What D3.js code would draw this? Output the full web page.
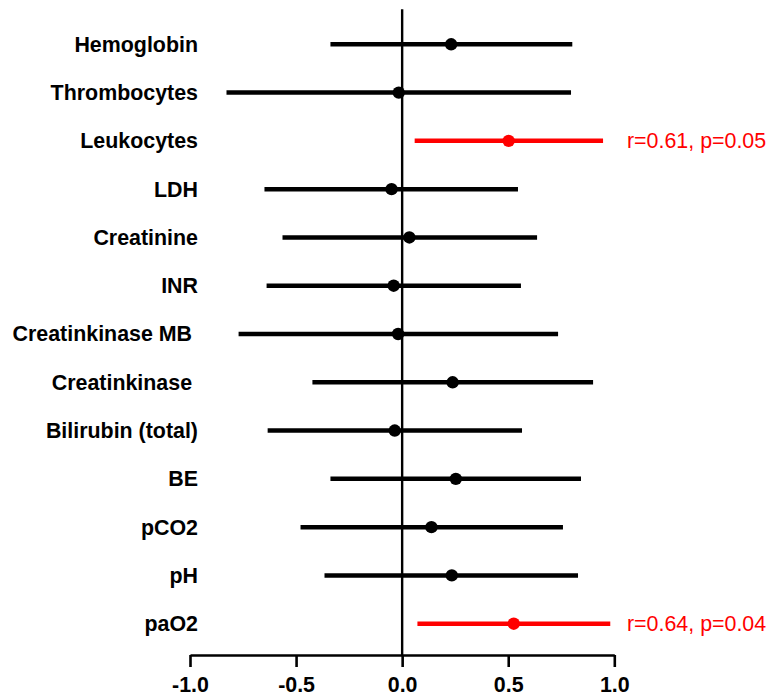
<!DOCTYPE html>
<html>
<head>
<meta charset="utf-8">
<script src="https://cdn.jsdelivr.net/npm/d3@7/dist/d3.min.js"></script>
<style>
  html, body { margin: 0; padding: 0; background: #fff; }
  text { font-family: "Liberation Sans", Arial, Helvetica, sans-serif; }
</style>
</head>
<body>
<svg id="chart" width="783" height="698"></svg>
<script>
// ---- data ----
const categories = ["Hemoglobin", "Thrombocytes", "Leukocytes", "LDH", "Creatinine", "INR",
  "Creatinkinase MB ", "Creatinkinase ", "Bilirubin (total)", "BE", "pCO2", "pH", "paO2"];
const estimate = [0.231, -0.016, 0.502, -0.050, 0.034, -0.040, -0.019, 0.238, -0.035, 0.253, 0.138, 0.234, 0.526];
const lower    = [-0.338, -0.828, 0.059, -0.649, -0.564, -0.639, -0.771, -0.423, -0.634, -0.338, -0.479, -0.366, 0.072];
const upper    = [0.802, 0.796, 0.947, 0.546, 0.636, 0.560, 0.735, 0.900, 0.565, 0.843, 0.758, 0.829, 0.981];
const significant = [false, false, true, false, false, false, false, false, false, false, false, false, true];
const annotations = ["", "", "r=0.61, p=0.05", "", "", "", "", "", "", "", "", "", "r=0.64, p=0.04"];
const tickValues = [-1.0, -0.5, 0.0, 0.5, 1.0];
const tickLabels = ["-1.0", "-0.5", "0.0", "0.5", "1.0"];

const rows = categories.map((c, i) => ({
  name: c, est: estimate[i], lo: lower[i], hi: upper[i], sig: significant[i], note: annotations[i]
}));

// ---- layout ----
const svg = d3.select("#chart");
const x = d3.scaleLinear().domain([-1, 1]).range([190, 614.3]);
const y = d3.scalePoint().domain(categories).range([44.3, 623.7]);
const axisY = 655;
const topY = 9.3;
const colorOf = d => d.sig ? "#ff0000" : "#000000";

// zero line
svg.append("line")
  .attr("x1", x(0)).attr("x2", x(0))
  .attr("y1", topY).attr("y2", axisY)
  .attr("stroke", "#000").attr("stroke-width", 2.4);

// x axis
const axis = d3.axisBottom(x)
  .tickValues(tickValues)
  .tickFormat((d, i) => tickLabels[i])
  .tickSize(12)
  .tickSizeOuter(0)
  .tickPadding(10);
const gx = svg.append("g").attr("transform", `translate(0,${axisY})`).call(axis);
gx.select(".domain").attr("stroke", "#000").attr("stroke-width", 2.6);
gx.selectAll(".tick line").attr("stroke", "#000").attr("stroke-width", 2.6);
gx.selectAll(".tick text")
  .attr("fill", "#000")
  .style("font-family", '"Liberation Sans", Arial, sans-serif')
  .style("font-size", "21.4px")
  .style("font-weight", "bold");

// error bars
svg.append("g").selectAll("line")
  .data(rows).join("line")
  .attr("x1", d => x(d.lo)).attr("x2", d => x(d.hi))
  .attr("y1", d => y(d.name)).attr("y2", d => y(d.name))
  .attr("stroke", colorOf).attr("stroke-width", 4.5);

// points
svg.append("g").selectAll("circle")
  .data(rows).join("circle")
  .attr("cx", d => x(d.est)).attr("cy", d => y(d.name))
  .attr("r", 6.2)
  .attr("fill", colorOf);

// category labels
svg.append("g").selectAll("text")
  .data(rows).join("text")
  .attr("x", 198).attr("y", d => y(d.name))
  .attr("dy", "0.35em")
  .attr("text-anchor", "end")
  .style("white-space", "pre")
  .style("font-size", "21.4px")
  .style("font-weight", "bold")
  .attr("fill", "#000")
  .text(d => d.name);

// annotations
svg.append("g").selectAll("text")
  .data(rows.filter(d => d.note)).join("text")
  .attr("x", 627).attr("y", d => y(d.name))
  .attr("dy", "0.33em")
  .style("font-size", "21.4px")
  .attr("fill", "#ff0000")
  .text(d => d.note);
</script>
</body>
</html>
